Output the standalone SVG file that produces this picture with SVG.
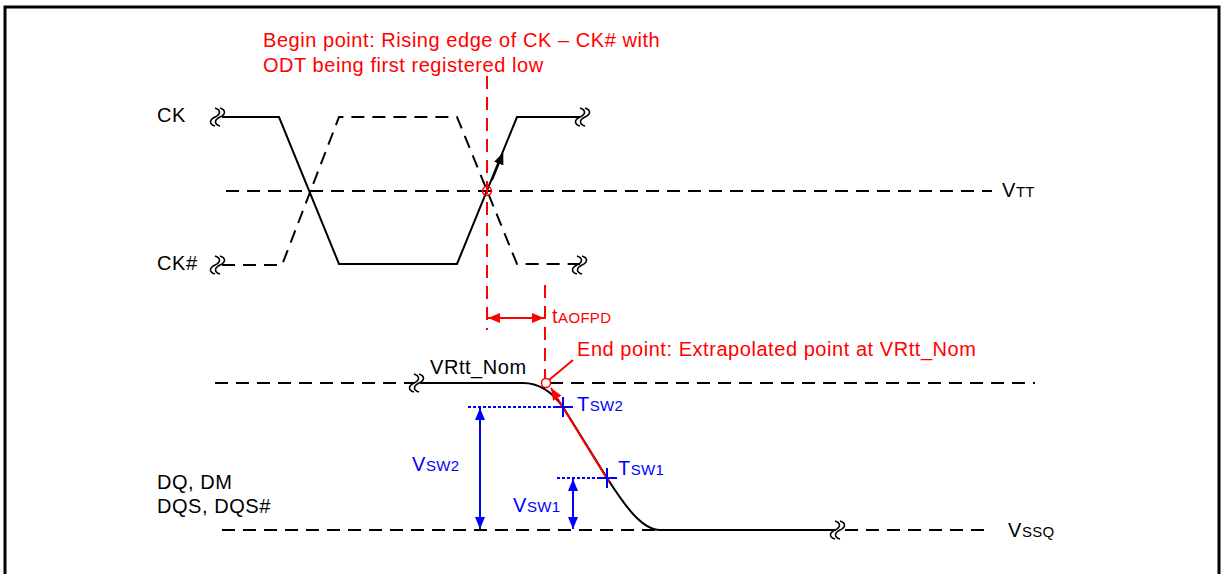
<svg xmlns="http://www.w3.org/2000/svg" width="1222" height="574" viewBox="0 0 1222 574">
<style>
text{font-family:"Liberation Sans",Arial,sans-serif;font-size:20px;letter-spacing:0.55px}
.k{fill:#000}.r{fill:#f00}.b{fill:#00f}
.sub{font-size:15px;letter-spacing:0.3px}
.sol{fill:none;stroke:#000;stroke-width:2}
.dash{fill:none;stroke:#000;stroke-width:2;stroke-dasharray:13 8}
.rdash{fill:none;stroke:#f00;stroke-width:2;stroke-dasharray:13 8}
.bdot{fill:none;stroke:#00f;stroke-width:2;stroke-dasharray:3 2}
.blue{fill:none;stroke:#00f;stroke-width:2}
.red{fill:none;stroke:#f00;stroke-width:2}
</style>
<defs>
<path id="brk" d="M-5,-9 c6,2 6,6 0,9 c-6,3 -6,7 0,9 M0,-9 c6,2 6,6 0,9 c-6,3 -6,7 0,9" fill="none" stroke="#000" stroke-width="1.6"/>
<marker id="ab" viewBox="0 0 12 10" refX="12" refY="5" markerWidth="12" markerHeight="10" markerUnits="userSpaceOnUse" orient="auto-start-reverse"><path d="M0,0L12,5L0,10z" fill="#00f"/></marker>
<marker id="ar" viewBox="0 0 12 10" refX="12" refY="5" markerWidth="12" markerHeight="10" markerUnits="userSpaceOnUse" orient="auto-start-reverse"><path d="M0,0L12,5L0,10z" fill="#f00"/></marker>
<marker id="ak" viewBox="0 0 12 10" refX="6" refY="5" markerWidth="12" markerHeight="10" markerUnits="userSpaceOnUse" orient="auto"><path d="M0,0L12,5L0,10z" fill="#000"/></marker>
</defs>
<rect width="1222" height="574" fill="#fff"/>
<path d="M5,580 V7 H1219 V580" fill="none" stroke="#000" stroke-width="3"/>

<g id="labels">
<text x="157" y="122">CK</text>
<text x="157" y="270">CK#</text>
<text x="157" y="489">DQ, DM</text>
<text x="157" y="513">DQS, DQS#</text>
<text x="1002" y="197">V<tspan class="sub">TT</tspan></text>
<text x="1008" y="537">V<tspan class="sub">SSQ</tspan></text>
<text x="430" y="374">VRtt_Nom</text>
</g>

<g id="ref-lines">
<path class="dash" d="M226,191 H992"/>
<path class="dash" d="M215,383 H415"/>
<path class="dash" d="M550,383 H1035"/>
<path class="dash" d="M222,530 H660"/>
<path class="dash" d="M845,530 H990"/>
</g>

<g id="ck">
<path class="sol" d="M222,117 H279 L339,264 H457 L517,117 H580"/>
<use href="#brk" x="220" y="117"/>
<use href="#brk" x="585" y="117"/>
<line x1="492" y1="180" x2="501" y2="158" stroke="#000" stroke-width="2" marker-end="url(#ak)"/>
</g>

<g id="ckb">
<path class="dash" d="M222,265 H282 L339,117 H457 L517,264 H580"/>
<use href="#brk" x="220" y="265"/>
<use href="#brk" x="582" y="265"/>
</g>

<g id="dq">
<path class="sol" d="M420,383 H523 C540,383 553,393 563,407 L607,478 C625,506 642,530 660,530 H836"/>
<use href="#brk" x="419" y="383"/>
<use href="#brk" x="840" y="530"/>
</g>

<g id="begin">
<text class="r" x="263" y="47">Begin point: Rising edge of CK – CK# with</text>
<text class="r" x="263" y="72">ODT being first registered low</text>
<path class="rdash" d="M487,76 V330"/>
<circle cx="487" cy="191" r="4.5" fill="none" stroke="#f00" stroke-width="1.5"/>
</g>

<g id="end">
<text class="r" x="577" y="356">End point: Extrapolated point at VRtt_Nom</text>
<path class="rdash" d="M545,285 V378"/>
<circle cx="546" cy="383" r="4.5" fill="none" stroke="#f00" stroke-width="1.5"/>
<line class="red" x1="549" y1="380" x2="573" y2="360"/>
</g>

<g id="taofpd">
<line class="red" x1="488" y1="318" x2="544" y2="318" marker-start="url(#ar)" marker-end="url(#ar)"/>
<text class="r" x="552" y="323">t<tspan class="sub">AOFPD</tspan></text>
</g>

<g id="slope">
<line class="red" x1="609" y1="482" x2="551" y2="388" marker-end="url(#ar)"/>
</g>

<g id="tsw2">
<path class="bdot" d="M468,407 H553"/>
<path class="blue" d="M553,407 H573 M563,397 V417"/>
<text class="b" x="577" y="411">T<tspan class="sub">SW2</tspan></text>
</g>

<g id="tsw1">
<path class="bdot" d="M557,478 H597"/>
<path class="blue" d="M597,478 H617 M607,468 V488"/>
<text class="b" x="618" y="475">T<tspan class="sub">SW1</tspan></text>
</g>

<g id="vsw2">
<line class="blue" x1="480" y1="408" x2="480" y2="529" marker-start="url(#ab)" marker-end="url(#ab)"/>
<text class="b" x="412" y="471">V<tspan class="sub">SW2</tspan></text>
</g>

<g id="vsw1">
<line class="blue" x1="573" y1="479" x2="573" y2="529" marker-start="url(#ab)" marker-end="url(#ab)"/>
<text class="b" x="513" y="512">V<tspan class="sub">SW1</tspan></text>
</g>
</svg>
